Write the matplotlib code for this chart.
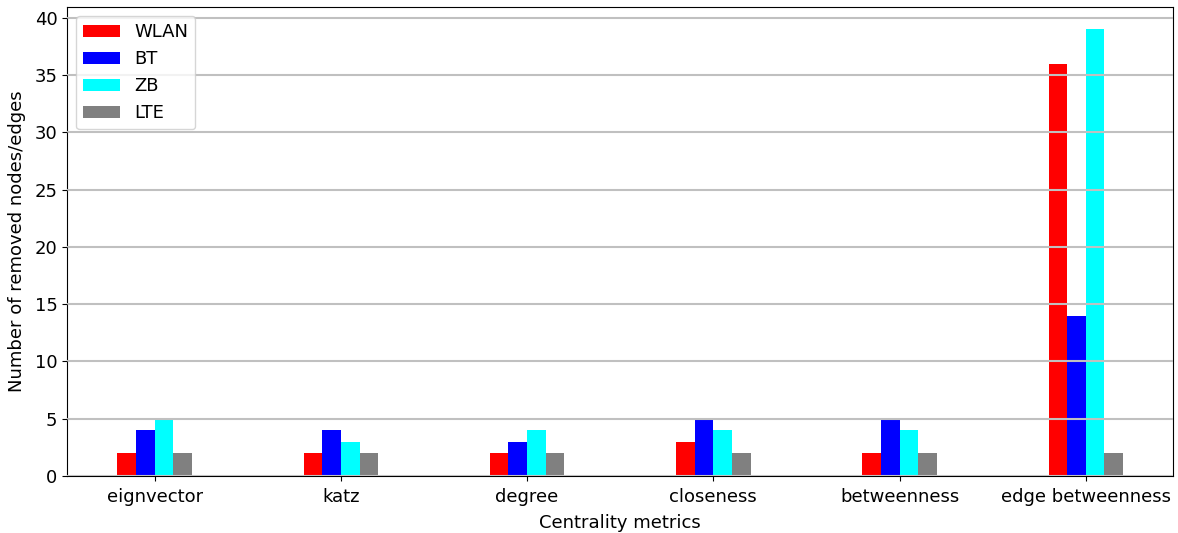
import numpy as np
import matplotlib
matplotlib.use("Agg")
import matplotlib.pyplot as plt

categories = ["eignvector", "katz", "degree", "closeness", "betweenness", "edge betweenness"]
wlan = [2, 2, 2, 3, 2, 36]
bt = [4, 4, 3, 5, 5, 14]
zb = [5, 3, 4, 4, 4, 39]
lte = [2, 2, 2, 2, 2, 2]

series = [("WLAN", wlan, "red"), ("BT", bt, "blue"), ("ZB", zb, "cyan"), ("LTE", lte, "gray")]

plt.rcParams["font.size"] = 13
fig = plt.figure(figsize=(11.78, 5.33), dpi=100)
ax = fig.add_axes([0.057, 0.107, 0.939, 0.880])

x = np.arange(len(categories))
width = 0.1
for i, (name, vals, color) in enumerate(series):
    ax.bar(x + (i - 1.5) * width, vals, width, color=color, label=name)

ax.set_xticks(x)
ax.set_xticklabels(categories)
ax.tick_params(axis="x", pad=5)
ax.set_xlabel("Centrality metrics", labelpad=6)
ax.set_ylabel("Number of removed nodes/edges", labelpad=6)
ax.yaxis.grid(True, color="#c0c0c0", linewidth=1.5)
ax.set_axisbelow(False)
ax.legend(loc="upper left")

fig.savefig("out.png", dpi=100)
